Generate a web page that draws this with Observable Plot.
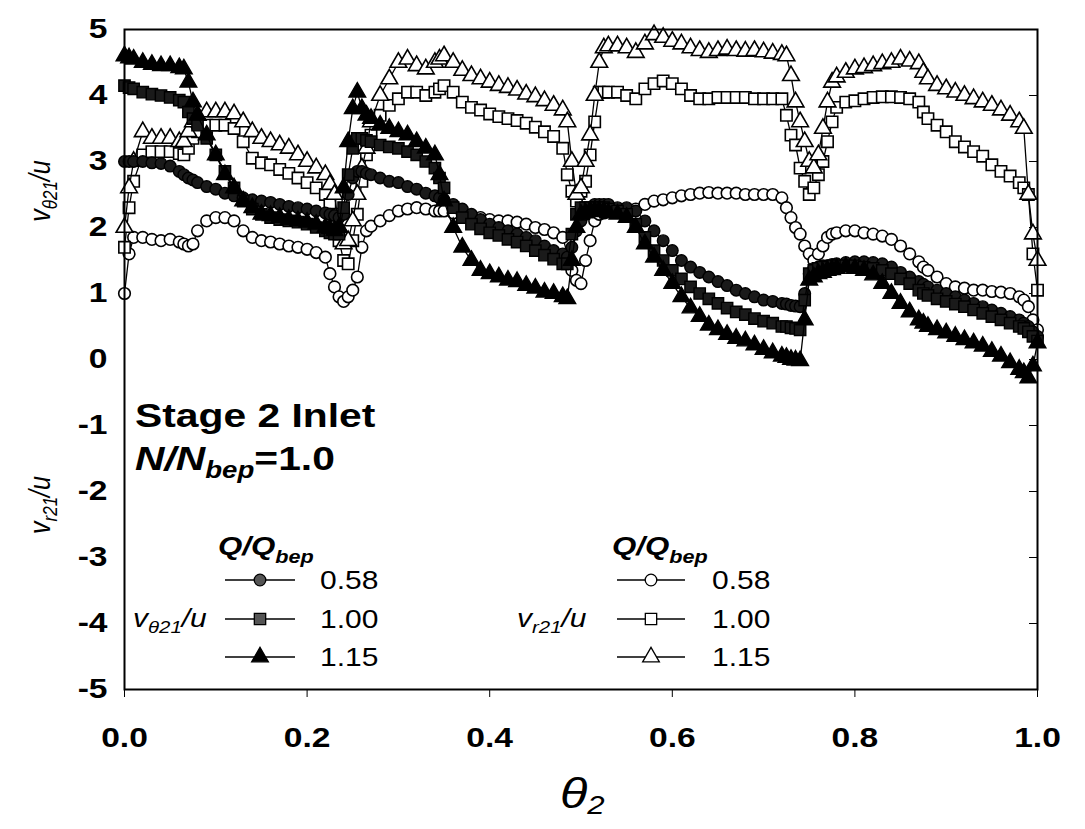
<!DOCTYPE html>
<html><head><meta charset="utf-8">
<script src="https://cdn.jsdelivr.net/npm/d3@7"></script>
<script src="https://cdn.jsdelivr.net/npm/@observablehq/plot@0.6"></script>
<style>body{margin:0;background:#fff;}</style>
</head><body><div id="chart"></div>
<script>
// angular position theta_2 (shared sampling positions)
const theta = [0,0.005,0.01,0.02,0.03,0.04,0.05,0.06,0.065,0.07,
0.075,0.08,0.09,0.10,0.11,0.12,0.13,0.14,0.15,0.16,
0.17,0.18,0.19,0.20,0.21,0.22,0.225,0.23,0.235,0.24,
0.245,0.25,0.255,0.26,0.265,0.27,0.28,0.29,0.30,0.31,
0.32,0.33,0.34,0.345,0.35,0.36,0.37,0.38,0.39,0.40,
0.41,0.42,0.43,0.44,0.45,0.46,0.47,0.48,0.485,0.49,
0.495,0.50,0.505,0.51,0.515,0.52,0.525,0.53,0.54,0.55,
0.56,0.57,0.58,0.59,0.60,0.61,0.62,0.63,0.64,0.65,
0.66,0.67,0.68,0.69,0.70,0.71,0.72,0.725,0.73,0.735,
0.74,0.745,0.75,0.755,0.76,0.765,0.77,0.775,0.78,0.79,
0.80,0.81,0.82,0.83,0.84,0.85,0.86,0.87,0.875,0.88,
0.89,0.90,0.91,0.92,0.93,0.94,0.95,0.96,0.97,0.98,
0.985,0.99,0.995,1.00];

// v_theta21/u  (filled symbols)
const vTheta058 = [3.0,3.0,3.0,3.0,2.98,2.97,2.93,2.85,2.8,2.75,
2.72,2.68,2.62,2.58,2.52,2.48,2.45,2.42,2.4,2.38,
2.35,2.32,2.3,2.28,2.25,2.22,2.2,2.18,2.15,2.2,
2.5,2.75,2.85,2.85,2.82,2.8,2.75,2.7,2.68,2.62,
2.58,2.52,2.48,2.45,2.42,2.35,2.28,2.2,2.12,2.05,
2.0,1.95,1.9,1.85,1.8,1.72,1.65,1.6,1.55,1.7,
1.95,2.1,2.2,2.3,2.35,2.35,2.35,2.35,2.3,2.3,
2.25,2.1,1.95,1.8,1.65,1.5,1.4,1.32,1.25,1.18,
1.12,1.05,1.0,0.95,0.9,0.88,0.85,0.84,0.82,0.81,
0.8,1.0,1.3,1.38,1.4,1.42,1.42,1.44,1.45,1.47,
1.48,1.48,1.47,1.45,1.4,1.32,1.25,1.18,1.14,1.1,
1.05,1.0,0.95,0.9,0.85,0.8,0.75,0.7,0.65,0.6,
0.55,0.5,0.42,0.35];
const vTheta100 = [4.15,4.12,4.1,4.05,4.02,4.0,3.97,3.93,3.9,3.75,
3.65,3.55,3.35,3.1,2.85,2.6,2.4,2.28,2.2,2.15,
2.12,2.1,2.08,2.05,2.0,1.95,1.92,1.9,1.9,2.3,
2.8,3.2,3.35,3.35,3.32,3.3,3.25,3.22,3.2,3.15,
3.1,3.0,2.9,2.75,2.6,2.3,2.15,2.05,1.98,1.92,
1.88,1.82,1.78,1.72,1.65,1.58,1.52,1.45,1.45,1.9,
2.2,2.3,2.3,2.3,2.3,2.3,2.3,2.28,2.25,2.2,
2.05,1.85,1.65,1.5,1.35,1.22,1.1,1.0,0.92,0.85,
0.78,0.72,0.68,0.62,0.58,0.55,0.5,0.5,0.48,0.47,
0.45,0.9,1.3,1.35,1.38,1.4,1.4,1.42,1.42,1.42,
1.42,1.4,1.38,1.35,1.3,1.22,1.15,1.05,1.0,0.97,
0.92,0.88,0.84,0.8,0.75,0.7,0.65,0.6,0.55,0.5,
0.47,0.42,0.35,0.28];
const vTheta115 = [4.6,4.57,4.55,4.5,4.47,4.45,4.45,4.42,4.4,4.2,
3.9,3.7,3.4,3.1,2.8,2.6,2.4,2.3,2.2,2.18,
2.15,2.12,2.1,2.08,2.05,2.0,1.98,1.95,2.0,2.6,
3.3,3.8,4.05,3.8,3.7,3.65,3.55,3.5,3.45,3.4,
3.3,3.2,3.1,2.8,2.4,2.0,1.7,1.5,1.35,1.3,
1.25,1.2,1.18,1.12,1.08,1.02,1.0,0.95,0.92,1.5,
2.0,2.2,2.22,2.25,2.25,2.25,2.24,2.22,2.2,2.15,
2.0,1.75,1.55,1.35,1.15,0.95,0.78,0.65,0.52,0.45,
0.38,0.32,0.28,0.22,0.15,0.1,0.05,0.03,0.0,-0.01,
-0.02,0.6,1.2,1.25,1.3,1.32,1.35,1.36,1.38,1.4,
1.38,1.35,1.28,1.15,1.0,0.85,0.72,0.6,0.55,0.5,
0.45,0.4,0.35,0.3,0.25,0.2,0.12,0.05,-0.05,-0.15,
-0.2,-0.28,-0.1,0.25];

// v_r21/u  (open symbols)
const vR058 = [1.0,1.6,1.85,1.85,1.82,1.8,1.82,1.78,1.75,1.72,
1.75,1.95,2.1,2.15,2.15,2.1,1.95,1.85,1.8,1.78,
1.75,1.72,1.7,1.67,1.62,1.55,1.3,1.1,0.95,0.88,
0.95,1.05,1.25,1.7,1.95,2.02,2.1,2.18,2.25,2.28,
2.3,2.28,2.25,2.25,2.25,2.22,2.2,2.18,2.15,2.12,
2.1,2.1,2.08,2.05,2.0,1.97,1.92,1.85,1.6,1.35,
1.2,1.15,1.5,1.8,2.1,2.2,2.22,2.25,2.25,2.25,
2.28,2.35,2.4,2.42,2.45,2.48,2.5,2.52,2.53,2.52,
2.52,2.52,2.5,2.5,2.5,2.5,2.45,2.3,2.15,2.0,
1.9,1.72,1.6,1.5,1.6,1.72,1.85,1.9,1.92,1.95,
1.95,1.92,1.9,1.87,1.82,1.72,1.6,1.48,1.4,1.35,
1.25,1.15,1.1,1.08,1.05,1.05,1.03,1.02,1.0,0.95,
0.9,0.8,0.6,0.45];
const vR100 = [1.7,2.3,2.7,3.1,3.15,3.15,3.15,3.12,3.1,3.2,
3.35,3.45,3.55,3.55,3.55,3.5,3.3,3.05,2.98,2.95,
2.88,2.82,2.75,2.68,2.6,2.5,2.35,2.2,1.8,1.5,
1.45,1.8,2.2,2.7,3.1,3.4,3.7,3.85,3.95,4.05,
4.05,4.0,4.05,4.1,4.15,4.05,3.9,3.82,3.78,3.72,
3.68,3.65,3.62,3.58,3.52,3.45,3.38,3.2,2.8,2.55,
2.4,2.55,2.7,3.1,3.6,4.05,4.05,4.05,4.05,4.0,
3.95,4.1,4.18,4.22,4.18,4.1,4.0,3.95,3.95,3.97,
3.97,3.97,3.97,3.95,3.95,3.95,3.95,3.7,3.4,3.25,
2.9,2.7,2.5,2.6,2.8,3.0,3.3,3.6,3.82,3.9,
3.92,3.95,3.97,3.98,3.98,3.97,3.95,3.9,3.75,3.65,
3.55,3.45,3.3,3.22,3.15,3.08,2.95,2.85,2.78,2.68,
2.6,2.5,1.6,1.05];
const vR115 = [2.0,2.6,3.0,3.45,3.35,3.35,3.35,3.3,3.3,3.45,
3.6,3.7,3.75,3.75,3.75,3.72,3.6,3.45,3.35,3.3,
3.25,3.2,3.1,3.0,2.9,2.8,2.65,2.5,2.0,1.75,
1.8,2.1,2.5,2.9,3.2,3.6,4.0,4.25,4.5,4.55,
4.45,4.4,4.5,4.55,4.6,4.5,4.38,4.3,4.25,4.2,
4.15,4.12,4.08,4.02,3.98,3.92,3.85,3.78,3.6,3.0,
2.5,2.6,3.0,3.4,4.0,4.5,4.72,4.75,4.75,4.72,
4.65,4.78,4.92,4.88,4.82,4.78,4.72,4.68,4.65,4.68,
4.7,4.68,4.67,4.68,4.66,4.64,4.62,4.6,4.3,3.9,
3.6,3.3,3.0,2.9,3.1,3.5,3.9,4.2,4.28,4.35,
4.4,4.42,4.45,4.48,4.5,4.55,4.52,4.48,4.35,4.25,
4.15,4.1,4.05,4.0,3.95,3.9,3.85,3.78,3.7,3.6,
3.5,2.5,1.9,1.5];

const xTicks = [0, 0.2, 0.4, 0.6, 0.8, 1.0];
const yTicks = [-5,-4,-3,-2,-1,0,1,2,3,4,5];
const flowLabels = ["0.58", "1.00", "1.15"];

const rows = (vals) => theta.map((t, i) => ({t, v: vals[i]}));

const openSeries = [
  {vals: vR058, symbol: "circle", r: 5.8},
  {vals: vR100, symbol: "square", r: 6.4},
  {vals: vR115, symbol: "triangle", r: 6.2}
];
const filledSeries = [
  {vals: vTheta058, symbol: "circle", r: 5.8, fill: "#1a1a1a"},
  {vals: vTheta100, symbol: "square", r: 6.4, fill: "#1a1a1a"},
  {vals: vTheta115, symbol: "triangle", r: 6.2, fill: "#000"}
];

const marks = [];
for (const s of openSeries) {
  const d = rows(s.vals);
  marks.push(Plot.line(d, {x: "t", y: "v", stroke: "#000", strokeWidth: 1.3}));
  marks.push(Plot.dot(d, {x: "t", y: "v", symbol: s.symbol, r: s.r, fill: "#fff", stroke: "#000", strokeWidth: 1.6}));
}
for (const s of filledSeries) {
  const d = rows(s.vals);
  marks.push(Plot.line(d, {x: "t", y: "v", stroke: "#000", strokeWidth: 1.3}));
  marks.push(Plot.dot(d, {x: "t", y: "v", symbol: s.symbol, r: s.r, fill: s.fill, stroke: "#000", strokeWidth: 1.4}));
}

const plot = Plot.plot({
  width: 1085, height: 829,
  marginLeft: 124, marginRight: 48, marginTop: 29, marginBottom: 140,
  style: {fontFamily: "'Liberation Sans', Arial, sans-serif", background: "#fff", color: "#000"},
  x: {domain: [0, 1]},
  y: {domain: [-5, 5]},
  marks: [
    Plot.axisX(xTicks, {tickSize: 8, tickPadding: 30, tickFormat: d => d.toFixed(1), fontSize: 28, fontWeight: "bold", label: null}),
    Plot.axisY(yTicks, {anchor: "left", tickSize: 0, tickPadding: 17, tickFormat: d => String(d), fontSize: 28, fontWeight: "bold", label: null}),
    Plot.axisY(yTicks, {anchor: "right", tickSize: 9, dx: -9, tickFormat: () => "", label: null}),
    ...marks,
    Plot.frame({stroke: "#000", strokeWidth: 2})
  ]
});
document.getElementById("chart").appendChild(plot);

// horizontal stretch of tick labels (reference typography is wide)
const SX = 1.2;
plot.querySelectorAll('g[aria-label$="tick label"] text').forEach(t => {
  const tr = t.getAttribute("transform") || "";
  t.setAttribute("transform", tr + ` scale(${SX},1)`);
});

const svg = d3.select(plot);
function rich(x, y, parts, {rotate = 0, anchor = "start", size = 24, weight = "normal"} = {}) {
  const t = svg.append("text")
    .attr("transform", `translate(${x},${y}) scale(${SX},1)` + (rotate ? ` rotate(${rotate})` : ""))
    .attr("text-anchor", anchor)
    .attr("font-family", "'Liberation Sans', Arial, sans-serif")
    .attr("font-size", size)
    .attr("font-weight", weight)
    .attr("fill", "#000");
  for (const p of parts) {
    const ts = t.append("tspan").text(p.t);
    if (p.size) ts.attr("font-size", p.size);
    if (p.italic) ts.attr("font-style", "italic");
    if (p.weight) ts.attr("font-weight", p.weight);
    if (p.dy) ts.attr("dy", p.dy);
  }
  return t;
}

// axis titles
rich(50, 191, [{t: "v", italic: true}, {t: "θ21", size: 17, italic: true, dy: 6}, {t: "/u", italic: true, dy: -6}], {rotate: -90, anchor: "middle", size: 25});
rich(50, 505, [{t: "v", italic: true}, {t: "r21", size: 17, italic: true, dy: 6}, {t: "/u", italic: true, dy: -6}], {rotate: -90, anchor: "middle", size: 25});
rich(560, 808, [{t: "θ", italic: true}, {t: "2", size: 26, italic: true, dy: 6}], {size: 42});

// annotation
rich(135, 427, [{t: "Stage 2 Inlet"}], {size: 34, weight: "bold"});
rich(135, 470, [{t: "N/N", italic: true}, {t: "bep", size: 23, italic: true, dy: 8}, {t: "=1.0", dy: -8}], {size: 34, weight: "bold"});

// legends
function legend(x0, lineX1, lineX2, labelX, titleX, sub, filled) {
  rich(titleX, 555, [{t: "Q/Q", italic: true}, {t: "bep", size: 18, italic: true, dy: 8}], {size: 26, weight: "bold"});
  const rowsY = [580, 619, 657];
  const syms = [d3.symbolCircle, d3.symbolSquare, d3.symbolTriangle];
  const rs = [5.8, 6.4, 6.2];
  rowsY.forEach((y, i) => {
    svg.append("line").attr("x1", lineX1).attr("x2", lineX2).attr("y1", y).attr("y2", y)
      .attr("stroke", "#000").attr("stroke-width", 1.3);
    const mx = (lineX1 + lineX2) / 2;
    svg.append("path").attr("transform", `translate(${mx},${y})`)
      .attr("d", d3.symbol(syms[i], Math.PI * rs[i] * rs[i])())
      .attr("fill", filled ? (i === 2 ? "#000" : "#555") : "#fff")
      .attr("stroke", "#000").attr("stroke-width", 1.3);
    rich(labelX, y + 9, [{t: flowLabels[i]}], {size: 25});
  });
  rich(x0, 627, [{t: "v", italic: true}, {t: sub, size: 17, italic: true, dy: 6}, {t: "/u", italic: true, dy: -6}], {size: 25});
}
legend(133, 225, 295, 320, 218, "θ21", true);
legend(517, 617, 685, 712, 612, "r21", false);
</script>
</body></html>
